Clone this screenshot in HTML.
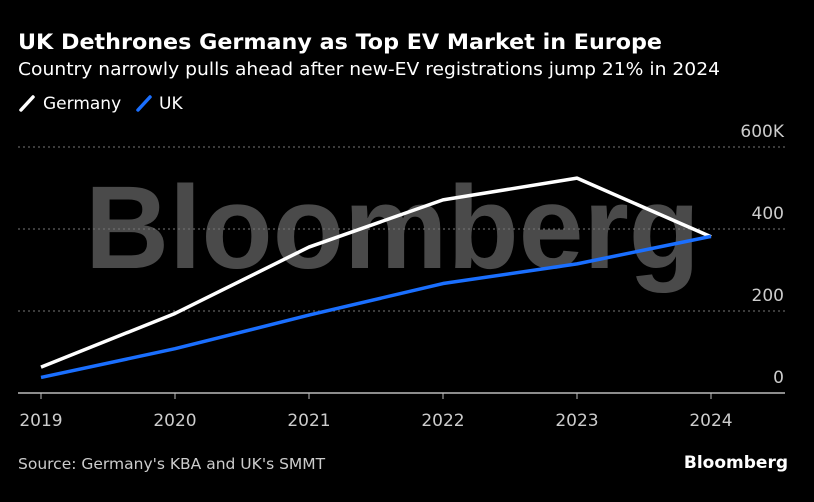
<!DOCTYPE html>
<html><head><meta charset="utf-8"><style>
html,body{margin:0;padding:0;background:#000;}
svg{display:block;font-family:"DejaVu Sans","Liberation Sans",sans-serif;}
</style></head><body>
<svg id="chart" width="814" height="502" viewBox="0 0 814 502" xmlns="http://www.w3.org/2000/svg">
<rect width="814" height="502" fill="#000"/>
<text x="18" y="49" fill="#fff" font-weight="bold" font-size="21" textLength="644" lengthAdjust="spacingAndGlyphs">UK Dethrones Germany as Top EV Market in Europe</text>
<text x="18" y="75" fill="#fff" font-size="17.5" textLength="702" lengthAdjust="spacingAndGlyphs">Country narrowly pulls ahead after new-EV registrations jump 21% in 2024</text>
<g>
<g>
<line x1="21" y1="110" x2="33" y2="97" stroke="#fff" stroke-width="3.5" stroke-linecap="round"/>
<text x="43" y="109" fill="#fff" font-size="17">Germany</text></g>
<g>
<line x1="138" y1="110" x2="150" y2="97" stroke="#1a6fff" stroke-width="3.5" stroke-linecap="round"/>
<text x="159" y="109" fill="#fff" font-size="17">UK</text></g>
</g>
<text x="85" y="268" fill="#4a4a4a" font-family="Liberation Sans, sans-serif" font-weight="bold" font-size="118" textLength="615" lengthAdjust="spacingAndGlyphs">Bloomberg</text>
<g id="grid"></g>
<g id="yticks"></g>
<g id="xticks"></g>
<g id="series"></g>
<text x="18" y="469" fill="#ccc" font-size="15.5">Source: Germany's KBA and UK's SMMT</text>
<text x="788" y="468" fill="#fff" font-weight="bold" font-size="17" text-anchor="end">Bloomberg</text>
</svg>
<script>
const years = ["2019","2020","2021","2022","2023","2024"];
const germany = [63, 194, 356, 471, 524, 381];
const uk = [38, 108, 190, 267, 315, 382];
const yTicks = [0, 200, 400, 600];
const yTickLabels = ["0", "200", "400", "600K"];
const NS = "http://www.w3.org/2000/svg";
const x = i => 41 + i * 134;
const y = v => 393 - v * 0.41;
function mk(tag, attrs, parent){const e=document.createElementNS(NS,tag);for(const k in attrs)e.setAttribute(k,attrs[k]);parent.appendChild(e);return e;}
const grid=document.getElementById('grid'), yt=document.getElementById('yticks'), xt=document.getElementById('xticks'), se=document.getElementById('series');
yTicks.forEach((v,i)=>{
  const l=mk('line',{x1:18,x2:785,y1:y(v),y2:y(v),stroke:v===0?'#bbb':'#777','stroke-width':v===0?1.5:1,'stroke-dasharray':v===0?'none':'2,3'},grid);
  
  
  const t=mk('text',{x:784,y:y(v)-10,fill:'#ccc','font-size':17,'text-anchor':'end'},yt);
  t.textContent=yTickLabels[i];
  
  
});
years.forEach((yr,i)=>{
  const tk=mk('line',{x1:x(i),x2:x(i),y1:393,y2:399,stroke:'#bbb'},xt);
  
  
  const t=mk('text',{x:x(i),y:426,fill:'#ccc','font-size':17,'text-anchor':'middle'},xt);
  t.textContent=yr;
  
  
});
function line(vals,color,name){
  const p=mk('polyline',{points:vals.map((v,i)=>x(i)+','+y(v)).join(' '),fill:'none',stroke:color,'stroke-width':3.5,'stroke-linejoin':'round'},se);
  
  
}
line(germany,'#ffffff','germany-line');
line(uk,'#1a6fff','uk-line');
</script>
</body></html>
